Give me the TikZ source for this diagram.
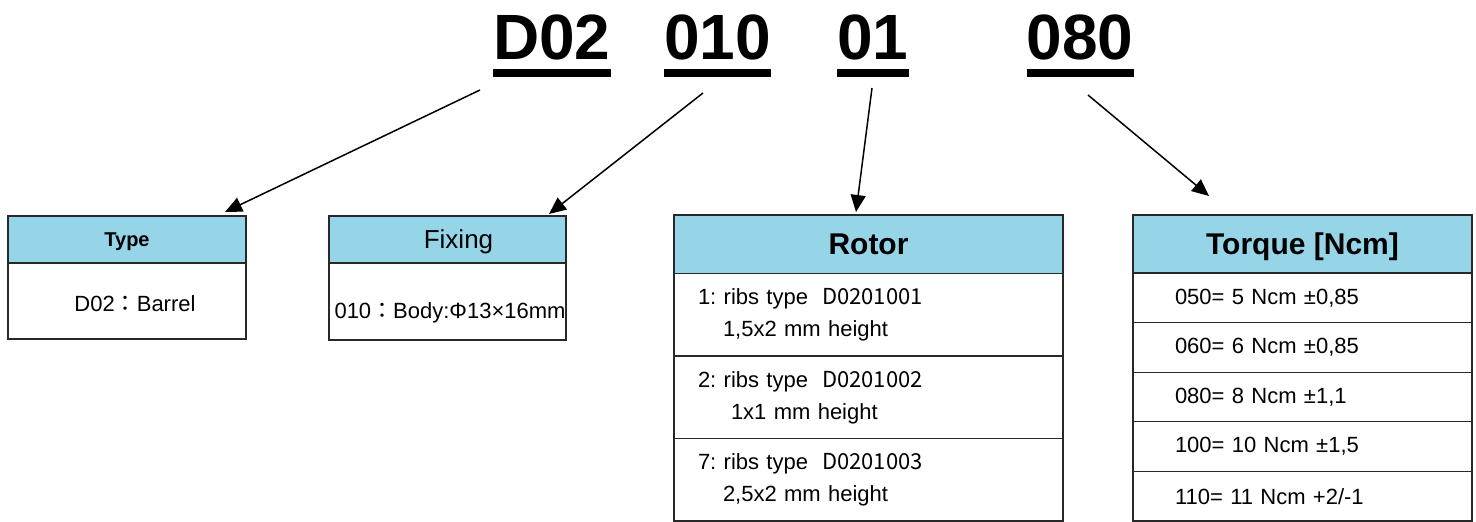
\documentclass[tikz,border=0pt]{standalone}
\usepackage{fontspec}
\setmainfont{Liberation Sans}
\newfontfamily\cjkfont{Noto Sans CJK JP}
\usetikzlibrary{arrows.meta, positioning}
\definecolor{headblue}{RGB}{150,213,232}
\definecolor{rulegray}{RGB}{40,40,40}
\frenchspacing

\begin{document}
\begin{tikzpicture}[
		x=1pt, y=-1pt,
		code/.style={font=\fontsize{64}{64}\selectfont\bfseries, inner sep=0pt},
		uline/.style={line width=7.5pt},
		head/.style={rectangle, draw=rulegray, line width=1.3pt, fill=headblue, inner sep=0pt, outer sep=0pt, text depth=0pt, align=center},
		cell/.style={rectangle, draw=rulegray, line width=1.3pt, inner sep=0pt, outer sep=0pt},
		txt/.style={font=\fontsize{22}{26}\selectfont, inner sep=0pt, anchor=base},
		line/.style={draw, line width=1.5pt, -{Triangle[length=17pt, width=15pt]}}
		]
		\useasboundingbox (0,0) rectangle (1476,522);
		
		% Code at the top
		\node[code, anchor=base west] at (493,59) (d02) {D02};
		\node[code, base right=53pt of d02] (c010) {010};
		\node[code, base right=66pt of c010] (c01) {01};
		\node[code, base right=118pt of c01] (c080) {080};
		\draw[uline] ([yshift=-14pt]d02.base west) -- ([yshift=-14pt]d02.base east);
		\draw[uline] ([yshift=-14pt]c010.base west) -- ([yshift=-14pt]c010.base east);
		\draw[uline] ([yshift=-14pt]c01.base west) -- ([yshift=-14pt]c01.base east);
		\draw[uline] ([yshift=-14pt]c080.base west) -- ([yshift=-14pt]c080.base east);
		
		% Type box
		\node[head, anchor=north west, minimum width=238pt, minimum height=47pt, font=\fontsize{20}{24}\selectfont\bfseries] at (8,216) (typeH) {Type};
		\node[cell, below=0pt of typeH, minimum width=238pt, minimum height=76pt] (typeB) {};
		\node[txt] at ([xshift=8pt, yshift=-10pt]typeB.center) (typeT) {D02{\cjkfont ：}Barrel};
		
		% Fixing box
		\node[head, right=83pt of typeH, minimum width=237pt, minimum height=47pt, font=\fontsize{26}{30}\selectfont] (fixH) {\hspace*{22pt}Fixing};
		\node[cell, below=0pt of fixH, minimum width=237pt, minimum height=77pt] (fixB) {};
		\node[txt] at ([xshift=2.5pt, yshift=-16.5pt]fixB.center) (fixT) {010{\cjkfont ：}Body:Φ13×16mm};
		
		% Rotor table
		\node[head, anchor=north west, minimum width=389pt, minimum height=58.5pt, font=\fontsize{30}{34}\selectfont\bfseries] at (674,215) (rotH) {Rotor};
		\node[cell, below=0pt of rotH, minimum width=389pt, minimum height=82.5pt, inner xsep=24pt, text width=341pt, align=left, font=\fontsize{22}{32}\selectfont] (rot1)
			{1: ribs type\hspace{14pt}{\cjkfont D0201001}\\\hspace*{25pt}1,5x2 mm height};
		\node[cell, below=0pt of rot1, minimum width=389pt, minimum height=82.5pt, inner xsep=24pt, text width=341pt, align=left, font=\fontsize{22}{32}\selectfont] (rot2)
			{2: ribs type\hspace{14pt}{\cjkfont D0201002}\\\hspace*{33pt}1x1 mm height};
		\node[cell, below=0pt of rot2, minimum width=389pt, minimum height=82.5pt, inner xsep=24pt, text width=341pt, align=left, font=\fontsize{22}{32}\selectfont] (rot3)
			{7: ribs type\hspace{14pt}{\cjkfont D0201003}\\\hspace*{25pt}2,5x2 mm height};
		
		% Torque table
		\node[head, anchor=north west, minimum width=339pt, minimum height=58pt, font=\fontsize{30}{34}\selectfont\bfseries] at (1133,215) (torH) {Torque [Ncm]};
		\node[cell, below=0pt of torH, minimum width=339pt, minimum height=49.6pt, inner xsep=42pt, text width=255pt, align=left, font=\fontsize{22}{26}\selectfont] (tor1) {050= 5 Ncm ±0,85};
		\node[cell, below=0pt of tor1, minimum width=339pt, minimum height=49.6pt, inner xsep=42pt, text width=255pt, align=left, font=\fontsize{22}{26}\selectfont] (tor2) {060= 6 Ncm ±0,85};
		\node[cell, below=0pt of tor2, minimum width=339pt, minimum height=49.6pt, inner xsep=42pt, text width=255pt, align=left, font=\fontsize{22}{26}\selectfont] (tor3) {080= 8 Ncm ±1,1};
		\node[cell, below=0pt of tor3, minimum width=339pt, minimum height=49.6pt, inner xsep=42pt, text width=255pt, align=left, font=\fontsize{22}{26}\selectfont] (tor4) {100= 10 Ncm ±1,5};
		\node[cell, below=0pt of tor4, minimum width=339pt, minimum height=49.6pt, inner xsep=42pt, text width=255pt, align=left, font=\fontsize{22}{26}\selectfont] (tor5) {110= 11 Ncm +2/-1};
		
		% Arrows from the code to the tables
		\coordinate (s1) at (480,90);
		\coordinate (s2) at (703,93);
		\coordinate (s3) at (872,88);
		\coordinate (s4) at (1088,95);
		\draw[line] (s1) -- ([xshift=-21pt, yshift=4pt]typeH.north east);
		\draw[line] (s2) -- ([xshift=-17pt, yshift=2pt]fixH.north east);
		\draw[line] (s3) -- ([xshift=-12.5pt, yshift=3pt]rotH.north);
		\draw[line] (s4) -- ([xshift=76pt, yshift=19pt]torH.north west);
		
	\end{tikzpicture}
\end{document}
